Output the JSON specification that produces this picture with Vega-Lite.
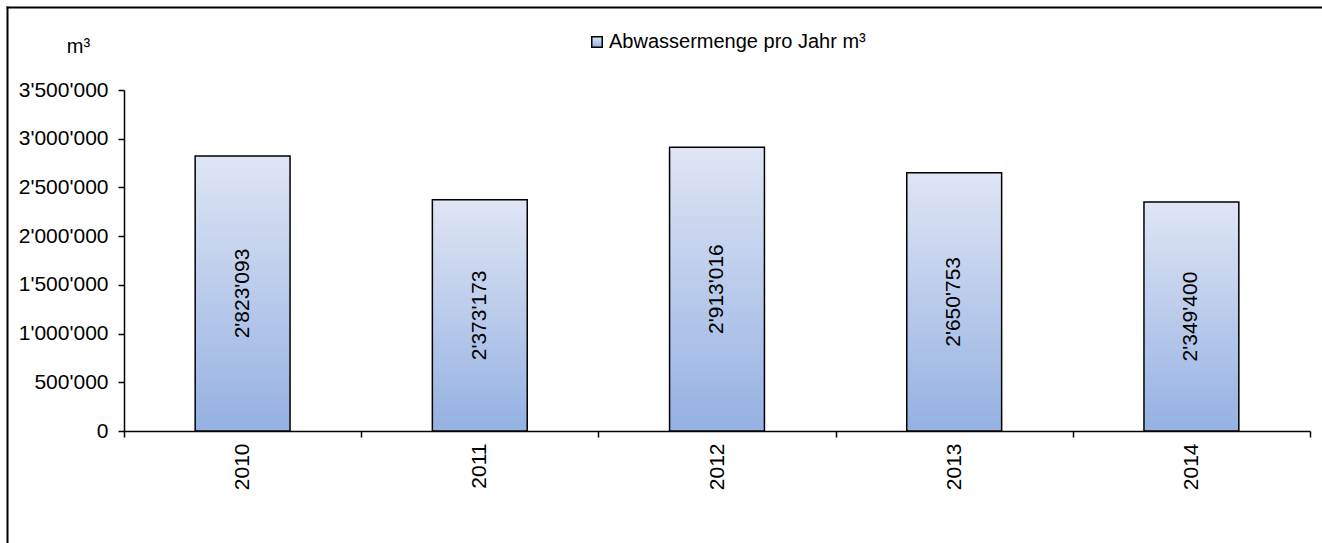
{
  "$schema": "https://vega.github.io/schema/vega-lite/v6.json",
  "autosize": "none",
  "padding": {"left": 7, "top": 7, "right": 7, "bottom": 6},
  "width": 1308,
  "height": 530,
  "background": "white",
  "config": {
    "font": "Liberation Sans",
    "view": {"stroke": null},
    "locale": {"number": {"decimal": ".", "thousands": "'", "grouping": [3], "currency": ["", ""]}},
    "axis": {"domainColor": "black", "tickColor": "black", "labelColor": "black", "grid": false, "domainWidth": 1.5, "tickWidth": 1.5, "labelFont": "Liberation Sans", "titleFont": "Liberation Sans"}
  },
  "data": {"values": [
    {"year": "2010", "value": 2823093, "series": "Abwassermenge pro Jahr m³"},
    {"year": "2011", "value": 2373173, "series": "Abwassermenge pro Jahr m³"},
    {"year": "2012", "value": 2913016, "series": "Abwassermenge pro Jahr m³"},
    {"year": "2013", "value": 2650753, "series": "Abwassermenge pro Jahr m³"},
    {"year": "2014", "value": 2349400, "series": "Abwassermenge pro Jahr m³"}
  ]},
  "layer": [
    {
      "encoding": {
        "x": {
          "field": "year", "type": "ordinal",
          "scale": {"range": [117, 1303], "paddingInner": 0, "paddingOuter": 0},
          "axis": {"title": null, "orient": "bottom", "offset": -106, "labelAngle": 270, "labelFontSize": 21, "tickSize": 6, "tickBand": "extent", "labelPadding": 6}
        }
      },
      "layer": [
        {
          "mark": {
            "type": "bar",
            "width": {"band": 0.4},
            "strokeWidth": 1.5,
            "fill": {"gradient": "linear", "x1": 0, "y1": 0, "x2": 0, "y2": 1, "stops": [{"offset": 0, "color": "#dfe5f4"}, {"offset": 1, "color": "#94b1e2"}]}
          },
          "encoding": {
            "y": {
              "field": "value", "type": "quantitative",
              "scale": {"domain": [0, 3500000], "range": [424, 83], "nice": false},
              "axis": {"orient": "left", "values": [0, 500000, 1000000, 1500000, 2000000, 2500000, 3000000, 3500000], "format": ",d", "labelFontSize": 21, "tickSize": 6, "labelPadding": 10, "offset": -117, "title": "m³", "titleAngle": 0, "titleFontSize": 20, "titleFontWeight": "normal", "titleAlign": "center", "titleBaseline": "middle", "titleX": -46, "titleY": 39}
            },
            "stroke": {
              "field": "series", "type": "nominal",
              "scale": {"range": ["black"]},
              "legend": {"title": null, "orient": "none", "legendX": 580, "legendY": 25, "symbolType": "square", "symbolSize": 110, "symbolStrokeWidth": 1.5, "symbolFillColor": "#c3d0ee", "labelFontSize": 20, "labelOffset": 2, "labelLimit": 600, "labelColor": "black"}
            }
          }
        },
        {
          "transform": [{"calculate": "datum.value / 2", "as": "mid"}],
          "mark": {"type": "text", "angle": 270, "fontSize": 21, "align": "center", "baseline": "middle", "color": "black"},
          "encoding": {
            "y": {"field": "mid", "type": "quantitative"},
            "text": {"field": "value", "type": "quantitative", "format": ",d"}
          }
        }
      ]
    },
    {
      "mark": {"type": "point", "opacity": 0},
      "encoding": {
        "x": {"datum": 0, "type": "quantitative", "scale": {"domain": [0, 1], "range": [-1, 1400]}, "axis": {"orient": "top", "offset": 0, "domainWidth": 2, "ticks": false, "labels": false, "title": null, "grid": false}},
        "y": {"datum": 0, "type": "quantitative", "scale": {"domain": [0, 1], "range": [620, -1]}, "axis": {"orient": "left", "offset": 0, "domainWidth": 2, "ticks": false, "labels": false, "title": null, "grid": false}}
      }
    }
  ],
  "resolve": {"scale": {"x": "independent", "y": "independent"}, "axis": {"x": "independent", "y": "independent"}}
}
